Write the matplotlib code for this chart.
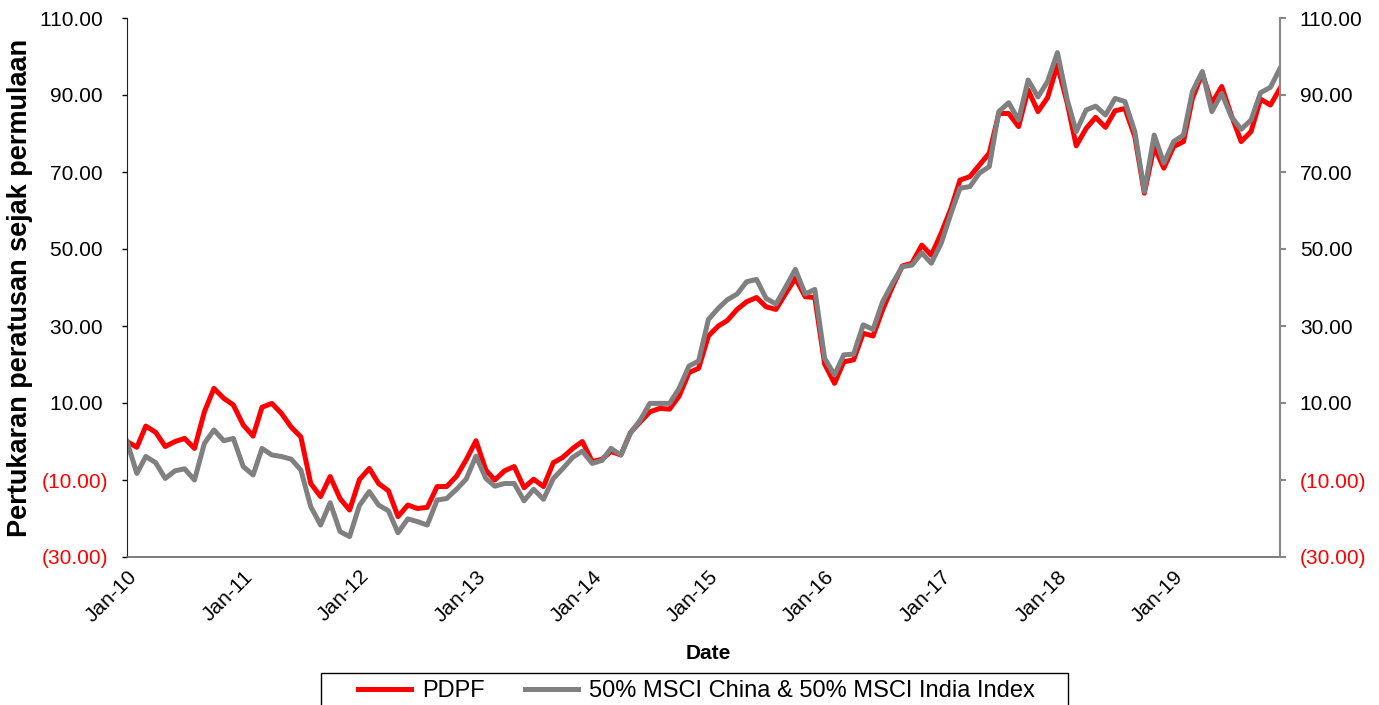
import numpy as np
import pandas as pd
import matplotlib
matplotlib.use("Agg")
import matplotlib.pyplot as plt
import matplotlib.dates as mdates
from matplotlib.patches import Rectangle
from matplotlib.ticker import FixedLocator, FuncFormatter

plt.rcParams['font.family'] = ['Liberation Sans', 'DejaVu Sans']

# monthly returns since inception, Jan-10 .. Dec-19
pdpf = [0.0, -1.5, 4.0, 2.4, -1.3, 0.0, 0.8, -1.8, 7.7, 13.8, 11.2, 9.5,
        4.3, 1.4, 8.9, 9.9, 7.3, 3.7, 1.2, -10.9, -14.3, -9.1, -14.8, -17.8,
        -9.9, -7.0, -10.9, -12.8, -19.5, -16.5, -17.4, -17.1, -11.7, -11.7, -9.0, -4.8,
        0.2, -7.4, -10.0, -7.6, -6.5, -12.0, -9.8, -11.7, -5.5, -4.1, -1.8, 0.0,
        -5.2, -4.6, -2.6, -3.5, 2.3, 5.1, 7.7, 8.6, 8.4, 11.8, 17.9, 19.0,
        27.4, 30.0, 31.4, 34.3, 36.3, 37.4, 35.0, 34.3, 38.5, 42.4, 37.6, 37.4,
        20.1, 15.1, 20.7, 21.2, 28.1, 27.4, 34.2, 40.2, 45.6, 46.3, 51.0, 48.4,
        54.1, 60.6, 67.9, 68.8, 71.8, 74.9, 85.2, 85.2, 81.8, 91.3, 85.7, 89.3,
        97.8, 87.8, 76.8, 81.3, 84.2, 81.6, 85.9, 86.5, 79.2, 64.5, 76.6, 71.0,
        76.6, 77.9, 89.1, 95.6, 87.8, 92.2, 84.8, 77.9, 80.5, 88.9, 87.4, 91.7]

benchmark = [0.0, -8.3, -3.9, -5.5, -9.6, -7.6, -7.1, -10.0, -0.5, 3.0, 0.2, 0.8,
             -6.5, -8.7, -1.8, -3.5, -3.9, -4.6, -7.4, -16.9, -21.7, -15.9, -23.4, -24.7,
             -16.6, -13.0, -16.5, -18.0, -23.7, -20.1, -20.8, -21.7, -15.2, -14.8, -12.4, -9.8,
             -3.8, -9.6, -11.6, -10.9, -10.9, -15.4, -12.4, -15.0, -9.6, -7.0, -4.1, -2.5,
             -5.7, -4.9, -1.8, -3.5, 2.2, 5.6, 9.9, 9.9, 9.9, 13.8, 19.6, 20.9,
             31.7, 34.6, 36.8, 38.3, 41.5, 42.1, 37.2, 35.7, 40.2, 44.7, 38.3, 39.5,
             21.6, 17.3, 22.5, 22.7, 30.3, 29.1, 36.3, 41.1, 45.4, 45.8, 49.0, 46.3,
             51.5, 59.3, 65.8, 66.2, 69.7, 71.4, 85.7, 88.0, 83.5, 93.9, 89.5, 93.5,
             101.0, 88.7, 80.5, 86.1, 87.1, 84.8, 89.1, 88.3, 80.5, 64.9, 79.6, 72.3,
             77.9, 79.6, 90.9, 96.1, 85.7, 90.4, 84.4, 81.1, 83.5, 90.6, 92.0, 96.9]

dates = pd.date_range("2010-01-01", periods=len(pdpf), freq="MS")
yticks = [-30, -10, 10, 30, 50, 70, 90, 110]

def fmt_left(v, pos):
    if v < 0:
        return "(%.2f)" % abs(v)
    return "%.2f " % v

def fmt_right(v, pos):
    if v < 0:
        return "(%.2f)" % abs(v)
    return "%.2f" % v

W, H = 1379, 705
fig = plt.figure(figsize=(W/100, H/100), dpi=100)
ax = fig.add_axes([127/W, 1-557/H, (1280-127)/W, (557-18)/H])

ax.plot(dates, pdpf, color='#FF0000', lw=3.6, label='PDPF')
ax.plot(dates, benchmark, color='#808080', lw=3.6,
        label='50% MSCI China & 50% MSCI India Index')

ax.set_xlim(dates[0], dates[-1])
ax.set_ylim(-30, 110)
ax.yaxis.set_major_locator(FixedLocator(yticks))
ax.yaxis.set_major_formatter(FuncFormatter(fmt_left))
ax.xaxis.set_major_locator(mdates.YearLocator(month=1, day=1))
ax.xaxis.set_major_formatter(mdates.DateFormatter('%b-%y'))

for lab in ax.get_xticklabels():
    lab.set_rotation(45)
    lab.set_ha('right')
    lab.set_rotation_mode('anchor')
ax.tick_params(axis='x', length=0, labelsize=15, pad=7)
ax.tick_params(axis='y', length=3.6, width=1, labelsize=15, pad=10, direction='out')

ax.spines['top'].set_visible(False)
ax.spines['right'].set_visible(False)
ax.spines['left'].set_color('#222222')
ax.spines['bottom'].set_color('#666666')
ax.spines['bottom'].set_linewidth(1.2)

ax2 = ax.twinx()
ax2.set_ylim(ax.get_ylim())
ax2.yaxis.set_major_locator(FixedLocator(yticks))
ax2.yaxis.set_major_formatter(FuncFormatter(fmt_right))
ax2.tick_params(axis='y', length=4.3, width=1.5, color='#888888', labelsize=15, pad=10)
for s in ['top', 'left', 'bottom']:
    ax2.spines[s].set_visible(False)
ax2.spines['right'].set_color('#888888')
ax2.spines['right'].set_linewidth(1.5)

fig.canvas.draw()
for a in (ax, ax2):
    for lab, v in zip(a.get_yticklabels(), a.get_yticks()):
        if v < 0:
            lab.set_color('#FF0000')

ax.set_xlabel('Date', fontsize=15, fontweight='bold')
ax.xaxis.set_label_coords((708-127)/1153, (557-644)/539)
ax.set_ylabel('Pertukaran peratusan sejak permulaan', fontsize=19.5, fontweight='bold')
ax.yaxis.set_label_coords(-0.0815, 0.5)

# legend box runs off the bottom edge like the original
fig.add_artist(Rectangle((321/W, -0.05), (1068-321)/W, 0.05 + 1-673/H,
                         transform=fig.transFigure, fill=False, edgecolor='black', lw=1.0))
leg = fig.legend(loc='center left', bbox_to_anchor=(358/W, 1-691/H), ncol=2,
                 fontsize=17, frameon=False, borderpad=0, borderaxespad=0,
                 handlelength=2.25, handletextpad=0.47, columnspacing=1.7)

fig.savefig('out.png', dpi=100)
